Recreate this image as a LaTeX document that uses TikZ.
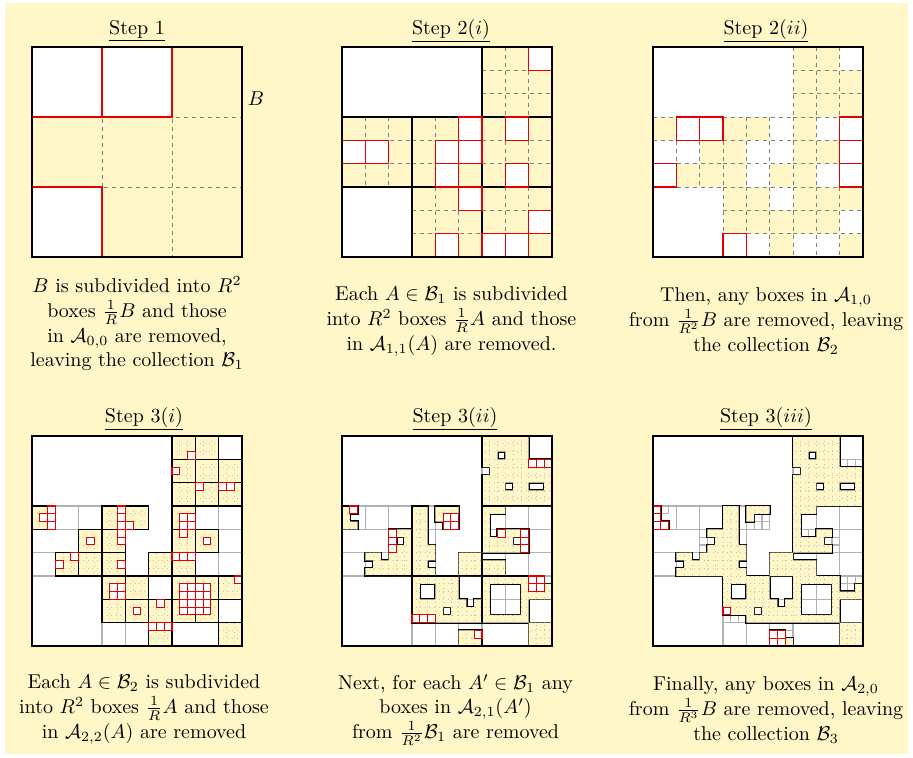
\documentclass[tikz,border=0pt]{standalone}
\usepackage{amsmath,amssymb}

\definecolor{bgyellow}{RGB}{255,247,200}

% cells of the construction (R = 3); big cells in 3-units, medium in 9-units, fine in 27-units
\def\Azero{0/0,1/0,0/2}
\def\Bone{2/0,0/1,1/1,2/1,1/2,2/2}
\def\Aoneone{8/0,5/3,7/3,0/4,1/4,4/4,5/4,4/5,7/5,5/6,8/7,4/8,6/8,7/8}
\def\Aonezero{1/3,2/3,8/3,8/4,0/5,8/5,3/8}
\def\Btwo{6/0,7/0,6/1,7/1,8/1,6/2,7/2,8/2,0/3,3/3,4/3,6/3,2/4,3/4,6/4,7/4,1/5,2/5,3/5,5/5,6/5,%
3/6,4/6,6/6,7/6,8/6,3/7,4/7,5/7,6/7,7/7,5/8,8/8}
\def\Atwotwo{20/2,18/4,21/6,24/6,25/6,2/9,1/10,2/10,2/11,11/9,11/10,11/11,11/12,11/13,12/11,%
19/10,20/10,19/11,20/11,19/12,22/13,7/13,5/15,3/16,11/16,18/15,19/15,20/15,26/18,%
10/19,11/19,10/20,11/20,19/19,20/19,21/19,22/19,19/20,20/20,21/20,22/20,%
19/21,20/21,21/21,22/21,19/22,20/22,21/22,22/22,16/21,13/22,15/24,16/24,17/24}
\def\Atwoone{24/3,25/3,26/3,1/9,13/10,14/10,13/11,14/11,6/12,6/13,6/14,20/12,23/12,23/13,23/14,%
24/18,25/18,24/19,25/19,9/23,10/23,11/23,17/25}
\def\Atwozero{0/9,0/10,0/11,1/11,9/22,15/25,16/25,15/26,16/26}

\newcommand\markcells[2]{\foreach \ci/\ri in #2 {\expandafter\gdef\csname #1-\ci-\ri\endcsname{}}}
\markcells{rmtt}{\Atwotwo}
\markcells{rmto}{\Atwoone}

% run #2 for every fine cell left in B2 (level 2) or B3 (level 3)
\newif\ifyel
\newcommand\yelcells[2]{%
  \foreach \mi/\ni in \Btwo {%
    \foreach \di in {0,1,2} {%
      \foreach \dj in {0,1,2} {%
        \pgfmathtruncatemacro\ci{3*\mi+\di}%
        \pgfmathtruncatemacro\ri{3*\ni+\dj}%
        \yeltrue
        \ifcsname rmtt-\ci-\ri\endcsname\yelfalse\fi
        \ifnum#1>2 \ifcsname rmto-\ci-\ri\endcsname\yelfalse\fi\fi
        \ifyel #2\fi}}}}

\gdef\yelpathtwo{}
\yelcells{2}{\xdef\yelpathtwo{\yelpathtwo (\ci,\ri) rectangle ++(1,1)}}
\gdef\yelpaththree{}
\yelcells{3}{\xdef\yelpaththree{\yelpaththree (\ci,\ri) rectangle ++(1,1)}}

\begin{document}
\begin{tikzpicture}[
  x=0.5pt, y=-0.5pt,
  panel/.style={shift={#1}, x=3.8889pt, y=-3.8889pt},
  boxframe/.style={draw=black, line width=0.65pt},
  cutcell/.style={draw=red!90!black, fill=white, line width=0.55pt},
  subgrid/.style={draw=gray, dash pattern=on 2pt off 2pt, line width=0.5pt},
  medline/.style={draw=black, line width=0.55pt},
  oldline/.style={draw=black!30, line width=0.6pt},
  rimline/.style={draw=black, line width=1.1pt},
  cellfill/.style={fill=bgyellow},
  fineline/.style={draw=black!25, dotted, line width=0.3pt},
  titletext/.style={anchor=base, inner sep=0pt},
  captext/.style={align=center, anchor=north, inner sep=0pt}
]
\useasboundingbox (0,0) rectangle (913,757);
\fill[bgyellow] (5,3) rectangle (908,754);

% ---------------- step 1 ----------------
\begin{scope}[panel={(32,47)}]
  \draw[subgrid] (9,0) -- (9,27) (18,0) -- (18,27) (0,9) -- (27,9) (0,18) -- (27,18);
  \foreach \mi/\ni in \Azero {\draw[cutcell] (9*\mi,9*\ni) rectangle ++(9,9);}
  \draw[boxframe] (0,0) rectangle (27,27);
\end{scope}
\node (blabel) at (256,99) {$B$};

% ---------------- step 2(i) ----------------
\begin{scope}[panel={(342,47)}]
  \fill[white] (0,0) rectangle (18,9) (0,18) rectangle (9,27);
  \foreach \mi/\ni in \Bone {
    \foreach \k in {3,6} {
      \draw[subgrid] (9*\mi+\k,9*\ni) -- ++(0,9);
      \draw[subgrid] (9*\mi,9*\ni+\k) -- ++(9,0);
    }
    \draw[medline] (9*\mi,9*\ni) rectangle ++(9,9);
  }
  \foreach \mi/\ni in \Aoneone {\draw[cutcell] (3*\mi,3*\ni) rectangle ++(3,3);}
  \draw[boxframe] (0,0) rectangle (27,27);
\end{scope}

% ---------------- step 2(ii) ----------------
\begin{scope}[panel={(653,47)}]
  \fill[white] (0,0) rectangle (18,9) (0,18) rectangle (9,27);
  \foreach \mi/\ni in \Aoneone {\fill[white] (3*\mi,3*\ni) rectangle ++(3,3);}
  \foreach \mi/\ni in \Bone {
    \foreach \k in {0,3,6,9} {
      \draw[subgrid] (9*\mi+\k,9*\ni) -- ++(0,9);
      \draw[subgrid] (9*\mi,9*\ni+\k) -- ++(9,0);
    }
  }
  \foreach \mi/\ni in \Aonezero {\draw[cutcell] (3*\mi,3*\ni) rectangle ++(3,3);}
  \draw[boxframe] (0,0) rectangle (27,27);
\end{scope}

% ---------------- step 3(i) ----------------
\begin{scope}[panel={(32,436)}]
  \fill[white] (0,0) rectangle (27,27);
  \foreach \mi/\ni in \Aonezero {\draw[oldline] (3*\mi,3*\ni) rectangle ++(3,3);}
  \foreach \mi/\ni in \Btwo {
    \fill[cellfill] (3*\mi,3*\ni) rectangle ++(3,3);
    \foreach \k in {1,2} {
      \draw[fineline] (3*\mi+\k,3*\ni) -- ++(0,3);
      \draw[fineline] (3*\mi,3*\ni+\k) -- ++(3,0);
    }
  }
  \foreach \mi/\ni in \Btwo {\draw[medline] (3*\mi,3*\ni) rectangle ++(3,3);}
  \foreach \ci/\ri in \Atwotwo {\draw[cutcell] (\ci,\ri) rectangle ++(1,1);}
  \draw[boxframe] (0,0) rectangle (27,27);
\end{scope}

% ---------------- step 3(ii) ----------------
\begin{scope}[panel={(342,436)}]
  \fill[white] (0,0) rectangle (27,27);
  \begin{scope}
    \clip (0,0) rectangle (27,27);
    \foreach \mi/\ni in \Btwo {\draw[oldline] (3*\mi,3*\ni) rectangle ++(3,3);}
    \foreach \mi/\ni in \Aonezero {\draw[oldline] (3*\mi,3*\ni) rectangle ++(3,3);}
    \draw[rimline] \yelpathtwo;
    \fill[cellfill] \yelpathtwo;
    \clip \yelpathtwo;
    \foreach \k in {1,...,26} {
      \draw[fineline] (\k,0) -- (\k,27);
      \draw[fineline] (0,\k) -- (27,\k);
    }
    \draw[medline] (9,0) -- (9,27) (18,0) -- (18,27) (0,9) -- (27,9) (0,18) -- (27,18);
  \end{scope}
  \foreach \ci/\ri in \Atwoone {\draw[cutcell] (\ci,\ri) rectangle ++(1,1);}
  \draw[boxframe] (0,0) rectangle (27,27);
\end{scope}

% ---------------- step 3(iii) ----------------
\begin{scope}[panel={(653,436)}]
  \fill[white] (0,0) rectangle (27,27);
  \begin{scope}
    \clip (0,0) rectangle (27,27);
    \foreach \mi/\ni in \Btwo {\draw[oldline] (3*\mi,3*\ni) rectangle ++(3,3);}
    \foreach \mi/\ni in \Aonezero {\draw[oldline] (3*\mi,3*\ni) rectangle ++(3,3);}
    \foreach \ci/\ri in \Atwoone {\draw[oldline] (\ci,\ri) rectangle ++(1,1);}
    \draw[rimline] \yelpaththree;
    \fill[cellfill] \yelpaththree;
    \clip \yelpaththree;
    \foreach \k in {1,...,26} {
      \draw[fineline] (\k,0) -- (\k,27);
      \draw[fineline] (0,\k) -- (27,\k);
    }
  \end{scope}
  \foreach \ci/\ri in \Atwozero {\draw[cutcell] (\ci,\ri) rectangle ++(1,1);}
  \draw[boxframe] (0,0) rectangle (27,27);
\end{scope}

% ---------------- titles ----------------
\node[titletext] (title1) at (137,34) {\underline{Step 1}};
\node[titletext] (title2) at (451,34) {\underline{Step 2($i$)}};
\node[titletext] (title3) at (766,34) {\underline{Step 2($ii$)}};
\node[titletext] (title4) at (144,422) {\underline{Step 3($i$)}};
\node[titletext] (title5) at (455,422) {\underline{Step 3($ii$)}};
\node[titletext] (title6) at (766,422) {\underline{Step 3($iii$)}};

% ---------------- captions ----------------
\node[captext] (cap1) at (137,276)
  {$B$ is subdivided into $R^2$\\[0.5pt] boxes $\frac{1}{R}B$ and those\\[0.5pt]
   in $\mathcal{A}_{0,0}$ are removed,\\ leaving the collection $\mathcal{B}_1$};
\node[captext] (cap2) at (451.5,286)
  {Each $A\in\mathcal{B}_1$ is subdivided\\[0.5pt] into $R^2$ boxes $\frac{1}{R}A$ and those\\[0.5pt]
   in $\mathcal{A}_{1,1}(A)$ are removed.};
\node[captext] (cap3) at (766,287)
  {Then, any boxes in $\mathcal{A}_{1,0}$\\[0.5pt] from $\frac{1}{R^2}B$ are removed, leaving\\[0.5pt]
   the collection $\mathcal{B}_2$};
\node[captext] (cap4) at (144,674)
  {Each $A\in\mathcal{B}_2$ is subdivided\\[0.5pt] into $R^2$ boxes $\frac{1}{R}A$ and those\\[0.5pt]
   in $\mathcal{A}_{2,2}(A)$ are removed};
\node[captext] (cap5) at (455.5,674)
  {Next, for each $A'\in\mathcal{B}_1$ any\\ boxes in $\mathcal{A}_{2,1}(A')$\\[0.5pt]
   from $\frac{1}{R^2}\mathcal{B}_1$ are removed};
\node[captext] (cap6) at (766,676)
  {Finally, any boxes in $\mathcal{A}_{2,0}$\\[0.5pt] from $\frac{1}{R^3}B$ are removed, leaving\\[0.5pt]
   the collection $\mathcal{B}_3$};

\end{tikzpicture}
\end{document}
